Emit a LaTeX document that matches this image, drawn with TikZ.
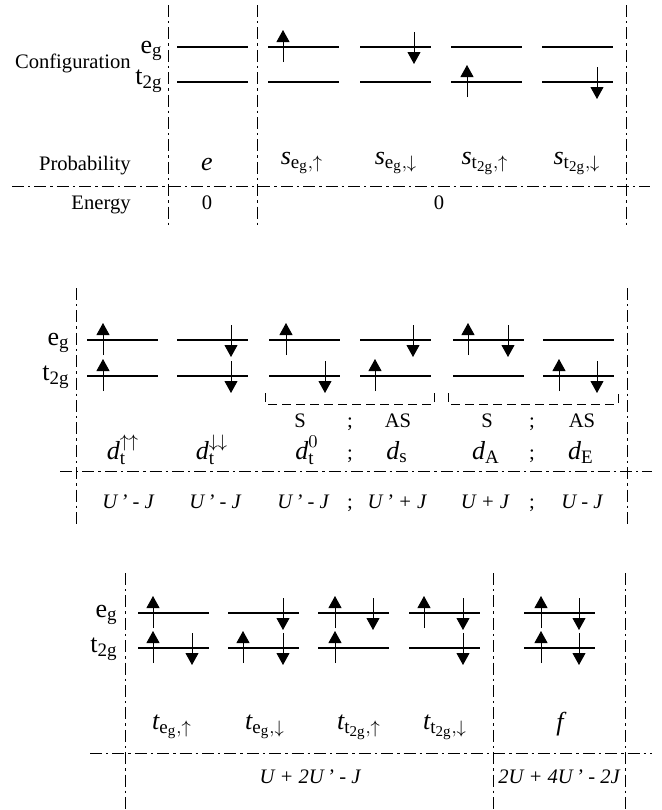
\documentclass[tikz,border=0pt]{standalone}
\usepackage{fontspec}
\setmainfont{Liberation Serif}
\usetikzlibrary{arrows.meta}

\DeclareMathSizes{13}{13}{9.5}{7.5}
\newcommand{\egsub}{\mathrm{e}_{\mathrm{g}}}
\newcommand{\tgsub}{\mathrm{t}_{\mathrm{2g}}}

\tikzset{
  lvl/.style={line width=0.7pt},
  spin/.style={line width=0.45pt,-{Triangle[width=6.5pt,length=6pt]}},
  sep/.style={line width=0.4pt,dash pattern=on 6pt off 2pt on 1.2pt off 2pt},
  brk/.style={line width=0.5pt,dash pattern=on 4.5pt off 2.5pt},
  txt/.style={font=\fontsize{10.3}{12}\selectfont,inner sep=0pt},
  sym/.style={font=\fontsize{13}{15}\selectfont,inner sep=0pt},
  nrg/.style={font=\fontsize{10.3}{12}\selectfont\itshape,inner sep=0pt}
}

\begin{document}
\begin{tikzpicture}[x=0.5pt,y=-0.5pt]
\useasboundingbox (0,0) rectangle (662,810);
% block 1: empty and singly occupied
\foreach \xa in {177,268,360,451,542}{\draw[lvl] (\xa,47) -- ++(71,0) (\xa,82) -- ++(71,0);}
\foreach \x/\l in {283/47,467/82}{\draw[spin] (\x,\l+15) -- (\x,\l-17);}
\foreach \x/\l in {414/47,597/82}{\draw[spin] (\x,\l-15) -- (\x,\l+17);}
\draw[sep] (168,5) -- (168,228);
\draw[sep] (257,5) -- (257,228);
\draw[sep] (626,5) -- (626,228);
\draw[sep] (12,186) -- (650,186);
\node[txt,anchor=base east] (cfg) at (131,68) {Configuration};
\node[txt,anchor=base east] (prob) at (131,170) {Probability};
\node[txt,anchor=base east] (ener) at (131,209) {Energy};
\node[sym,anchor=base east] (egT) at (163,53) {$\egsub$};
\node[sym,anchor=base east] (tgT) at (163,84) {$\tgsub$};
\node[sym,anchor=base] (pe) at (207,170) {$\textit{e}$};
\foreach \n/\x/\s in {1/302/{\egsub,\uparrow},2/396/{\egsub,\downarrow},3/485/{\tgsub,\uparrow},4/577/{\tgsub,\downarrow}}{
  \node[sym,anchor=base] (ps\n) at (\x,164) {$\textit{s}_{\s}$};
}
\node[txt,anchor=base] (ez1) at (207,209) {0};
\node[txt,anchor=base] (ez2) at (439,209) {0};
% block 2: doubly occupied
\foreach \xa in {87,177,269,360,453,543}{\draw[lvl] (\xa,340) -- ++(71,0) (\xa,376) -- ++(71,0);}
\foreach \x/\l in {103/340,103/376,286/340,375/376,468/340,559/376}{\draw[spin] (\x,\l+15) -- (\x,\l-17);}
\foreach \x/\l in {231/340,231/376,325/376,413/340,508/340,597/376}{\draw[spin] (\x,\l-15) -- (\x,\l+17);}
\draw[brk] (265,393) |- (434,404) -- (434,393);
\draw[brk] (448,393) |- (618,404) -- (618,393);
\draw[sep] (76,288) -- (76,525);
\draw[sep] (627,288) -- (627,525);
\draw[sep] (60,471) -- (652,471);
\node[sym,anchor=base east] (egM) at (70,345) {$\egsub$};
\node[sym,anchor=base east] (tgM) at (70,380) {$\tgsub$};
\foreach \n/\x/\s in {1/300/S,2/398/AS,3/487/S,4/582/AS}{
  \node[txt,anchor=base] (sy\n) at (\x,427) {\s};
}
\foreach \n/\x/\s in {1/123/{_{\mathrm{t}}^{\uparrow\uparrow}},2/212/{_{\mathrm{t}}^{\downarrow\downarrow}},3/307/{_{\mathrm{t}}^{0}},4/397/{_{\mathrm{s}}},5/486/{_{\mathrm{A}}},6/581/{_{\mathrm{E}}}}{
  \node[sym,anchor=base] (dl\n) at (\x,459) {$\textit{d}\s$};
}
\foreach \n/\x/\s in {1/128/{U\,' - J},2/215/{U\,' - J},3/303/{U\,' - J},4/397/{U\,' + J},5/485/{U + J},6/582/{U - J}}{
  \node[nrg,anchor=base] (du\n) at (\x,508) {\s};
}
\foreach \n/\x in {1/350,2/532}{
  \node[txt,anchor=base] (sc\n) at (\x,427) {;};
  \node[txt,anchor=base] (dc\n) at (\x,459) {;};
  \node[txt,anchor=base] (uc\n) at (\x,508) {;};
}
% block 3: triply and fully occupied
\foreach \xa in {138,228,318,409,524}{\draw[lvl] (\xa,613) -- ++(71,0) (\xa,648) -- ++(71,0);}
\foreach \x/\l in {153/613,153/648,243/648,335/613,335/648,424/613,541/613,541/648}{\draw[spin] (\x,\l+15) -- (\x,\l-17);}
\foreach \x/\l in {192/648,283/613,283/648,373/613,463/613,463/648,579/613,579/648}{\draw[spin] (\x,\l-15) -- (\x,\l+17);}
\draw[sep] (125,573) -- (125,810);
\draw[sep] (493,573) -- (493,810);
\draw[sep] (625,573) -- (625,810);
\draw[sep] (90,753) -- (652,753);
\node[sym,anchor=base east] (egB) at (118,617) {$\egsub$};
\node[sym,anchor=base east] (tgB) at (118,652) {$\tgsub$};
\foreach \n/\x/\s in {1/172/{\egsub,\uparrow},2/265/{\egsub,\downarrow},3/359/{\tgsub,\uparrow},4/445/{\tgsub,\downarrow}}{
  \node[sym,anchor=base] (tl\n) at (\x,729) {$\textit{t}_{\s}$};
}
\node[sym,anchor=base] (fl) at (560,730) {$\textit{f}$};
\node[nrg,anchor=base] (ub1) at (310,783) {U + 2U\,' - J};
\node[nrg,anchor=base] (ub2) at (559,783) {2U + 4U\,' - 2J};
\end{tikzpicture}
\end{document}
